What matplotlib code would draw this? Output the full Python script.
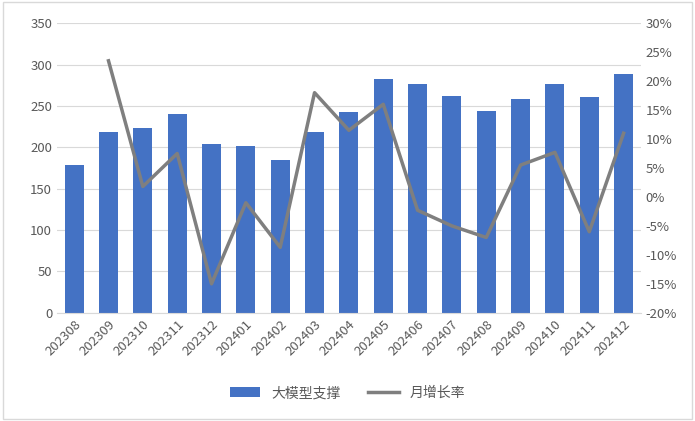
import matplotlib.pyplot as plt
import numpy as np

plt.rcParams['font.family'] = ['Noto Sans CJK SC', 'DejaVu Sans']

months = ["202308", "202309", "202310", "202311", "202312", "202401", "202402", "202403",
          "202404", "202405", "202406", "202407", "202408", "202409", "202410", "202411", "202412"]
support = [178, 219, 223, 240, 204, 202, 185, 218, 243, 282, 276, 262, 244, 258, 277, 261, 289]
growth = [np.nan, 23.5, 1.8, 7.5, -15.0, -1.0, -8.7, 18.0, 11.5, 16.0, -2.3, -5.0, -7.0, 5.5, 7.7, -6.0, 11.0]

fig = plt.figure(figsize=(6.95, 4.21), dpi=100)
fig.patches.append(plt.Rectangle((0.004, 0.004), 0.992, 0.992, transform=fig.transFigure,
                                 fill=False, edgecolor='#d9d9d9', linewidth=1))
ax = fig.add_axes([0.082, 0.257, 0.84, 0.688])
x = np.arange(len(months))
ax.bar(x, support, width=0.55, color='#4472c4', label='大模型支撑', zorder=2)
ax.set_ylim(0, 350)
ax.set_yticks(range(0, 351, 50))
ax.set_xlim(-0.5, len(months) - 0.5)
ax.set_xticks(x)
ax.set_xticklabels(months, rotation=45, ha='right', rotation_mode='anchor')
ax.grid(axis='y', color='#d9d9d9', linewidth=0.8, zorder=0)
ax.set_axisbelow(True)

ax2 = ax.twinx()
ax2.plot(x, growth, color='#7f7f7f', linewidth=2.5, label='月增长率')
ax2.set_ylim(-20, 30)
ax2.set_yticks(range(-20, 31, 5))
ax2.set_yticklabels([f"{v}%" for v in range(-20, 31, 5)])

for a in (ax, ax2):
    for s in a.spines.values():
        s.set_visible(False)
    a.tick_params(length=0, labelsize=9.5, colors='#595959')
ax.spines['bottom'].set_visible(True)
ax.spines['bottom'].set_color('#d9d9d9')

h1, l1 = ax.get_legend_handles_labels()
h2, l2 = ax2.get_legend_handles_labels()
fig.legend(h1 + h2, l1 + l2, loc='lower center', bbox_to_anchor=(0.5, 0.02), ncol=2,
           frameon=False, fontsize=10, labelcolor='#595959', handlelength=2.2, columnspacing=2)

fig.savefig('out.png')
